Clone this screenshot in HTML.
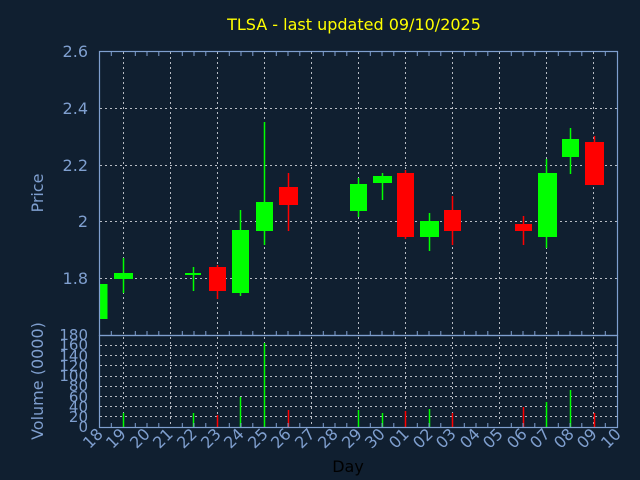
<!DOCTYPE html>
<html><head><meta charset="utf-8"><style>
html,body{margin:0;padding:0;background:#101f30;}
svg{display:block;font-family:"DejaVu Sans","Liberation Sans",sans-serif;}
</style></head><body>
<svg width="640" height="480" viewBox="0 0 640 480" xmlns="http://www.w3.org/2000/svg">
<rect width="640" height="480" fill="#101f30"/>
<text x="354" y="30" fill="#ffff00" font-size="16" text-anchor="middle">TLSA - last updated 09/10/2025</text>
<g stroke="#b8bcc4" stroke-width="1" stroke-dasharray="2,3">
<!-- price horizontal grid -->
<line x1="100" y1="108.5" x2="617" y2="108.5"/>
<line x1="100" y1="165.5" x2="617" y2="165.5"/>
<line x1="100" y1="221.5" x2="617" y2="221.5"/>
<line x1="100" y1="278.5" x2="617" y2="278.5"/>
<!-- volume horizontal grid -->
<line x1="100" y1="345.5" x2="617" y2="345.5"/>
<line x1="100" y1="355.5" x2="617" y2="355.5"/>
<line x1="100" y1="365.5" x2="617" y2="365.5"/>
<line x1="100" y1="376.5" x2="617" y2="376.5"/>
<line x1="100" y1="386.5" x2="617" y2="386.5"/>
<line x1="100" y1="396.5" x2="617" y2="396.5"/>
<line x1="100" y1="406.5" x2="617" y2="406.5"/>
<line x1="100" y1="416.5" x2="617" y2="416.5"/>
<!-- vertical grid -->
<g id="vg">
<line x1="123.5" y1="52" x2="123.5" y2="427"/>
<line x1="170.5" y1="52" x2="170.5" y2="427"/>
<line x1="217.5" y1="52" x2="217.5" y2="427"/>
<line x1="264.5" y1="52" x2="264.5" y2="427"/>
<line x1="311.5" y1="52" x2="311.5" y2="427"/>
<line x1="358.5" y1="52" x2="358.5" y2="427"/>
<line x1="405.5" y1="52" x2="405.5" y2="427"/>
<line x1="452.5" y1="52" x2="452.5" y2="427"/>
<line x1="499.5" y1="52" x2="499.5" y2="427"/>
<line x1="546.5" y1="52" x2="546.5" y2="427"/>
<line x1="593.5" y1="52" x2="593.5" y2="427"/>
</g>
</g>
<!-- candles -->
<g>
<rect x="99.5" y="284" width="8" height="35" fill="#00ff00"/>
<line x1="123.5" y1="258" x2="123.5" y2="293" stroke="#00ff00" stroke-width="1.5"/>
<rect x="114" y="273" width="19" height="6" fill="#00ff00"/>
<line x1="193.5" y1="267" x2="193.5" y2="291" stroke="#00ff00" stroke-width="1.5"/>
<rect x="185" y="273" width="16" height="2" fill="#00ff00"/>
<line x1="217.5" y1="265" x2="217.5" y2="299" stroke="#ff0000" stroke-width="1.5"/>
<rect x="209" y="267" width="17" height="24" fill="#ff0000"/>
<line x1="240.5" y1="210" x2="240.5" y2="296" stroke="#00ff00" stroke-width="1.5"/>
<rect x="232" y="230" width="17" height="63" fill="#00ff00"/>
<line x1="264.5" y1="122" x2="264.5" y2="245" stroke="#00ff00" stroke-width="1.5"/>
<rect x="256" y="202" width="17" height="29" fill="#00ff00"/>
<line x1="288.5" y1="173" x2="288.5" y2="231" stroke="#ff0000" stroke-width="1.5"/>
<rect x="279" y="187" width="19" height="18" fill="#ff0000"/>
<line x1="358.5" y1="178" x2="358.5" y2="217" stroke="#00ff00" stroke-width="1.5"/>
<rect x="350" y="184" width="17" height="27" fill="#00ff00"/>
<line x1="382.5" y1="173" x2="382.5" y2="200" stroke="#00ff00" stroke-width="1.5"/>
<rect x="373" y="176" width="19" height="7" fill="#00ff00"/>
<line x1="405.5" y1="170" x2="405.5" y2="239" stroke="#ff0000" stroke-width="1.5"/>
<rect x="397" y="173" width="17" height="64" fill="#ff0000"/>
<line x1="429.5" y1="213" x2="429.5" y2="251" stroke="#00ff00" stroke-width="1.5"/>
<rect x="420" y="221" width="19" height="16" fill="#00ff00"/>
<line x1="452.5" y1="196" x2="452.5" y2="245" stroke="#ff0000" stroke-width="1.5"/>
<rect x="444" y="210" width="17" height="21" fill="#ff0000"/>
<line x1="523.5" y1="216" x2="523.5" y2="245" stroke="#ff0000" stroke-width="1.5"/>
<rect x="515" y="224" width="17" height="7" fill="#ff0000"/>
<line x1="546.5" y1="159" x2="546.5" y2="248" stroke="#00ff00" stroke-width="1.5"/>
<rect x="538" y="173" width="19" height="64" fill="#00ff00"/>
<line x1="570.5" y1="128" x2="570.5" y2="174" stroke="#00ff00" stroke-width="1.5"/>
<rect x="562" y="139" width="17" height="18" fill="#00ff00"/>
<line x1="594.5" y1="136" x2="594.5" y2="142" stroke="#ff0000" stroke-width="1.5"/>
<rect x="585" y="142" width="19" height="43" fill="#ff0000"/>
</g>
<!-- volume bars -->
<g stroke-width="1.5">
<line x1="123.5" y1="413" x2="123.5" y2="427" stroke="#00ff00"/>
<line x1="193.5" y1="413" x2="193.5" y2="427" stroke="#00ff00"/>
<line x1="217.5" y1="415" x2="217.5" y2="427" stroke="#ff0000"/>
<line x1="240.5" y1="397" x2="240.5" y2="427" stroke="#00ff00"/>
<line x1="264.5" y1="343" x2="264.5" y2="427" stroke="#00ff00"/>
<line x1="288.5" y1="410" x2="288.5" y2="427" stroke="#ff0000"/>
<line x1="358.5" y1="410" x2="358.5" y2="427" stroke="#00ff00"/>
<line x1="382.5" y1="413" x2="382.5" y2="427" stroke="#00ff00"/>
<line x1="405.5" y1="411" x2="405.5" y2="427" stroke="#ff0000"/>
<line x1="429.5" y1="409" x2="429.5" y2="427" stroke="#00ff00"/>
<line x1="452.5" y1="413" x2="452.5" y2="427" stroke="#ff0000"/>
<line x1="523.5" y1="407" x2="523.5" y2="427" stroke="#ff0000"/>
<line x1="546.5" y1="402" x2="546.5" y2="427" stroke="#00ff00"/>
<line x1="570.5" y1="390" x2="570.5" y2="427" stroke="#00ff00"/>
<line x1="594.5" y1="413" x2="594.5" y2="427" stroke="#ff0000"/>
</g>
<!-- axes frames -->
<g fill="none" stroke="#7f9fcf" stroke-width="1.2">
<rect x="99.5" y="51.5" width="518" height="284"/>
<rect x="99.5" y="335.5" width="518" height="92"/>
</g>
<!-- ticks -->
<g stroke="#7f9fcf" stroke-width="1">
<path d="M111.3 52v4M135.3 52v4M147 52v4M158.8 52v4M182.3 52v4M194 52v4M205.8 52v4M229.3 52v4M241 52v4M252.8 52v4M276.3 52v4M288 52v4M299.8 52v4M323.3 52v4M335 52v4M346.8 52v4M370.3 52v4M382 52v4M393.8 52v4M417.3 52v4M429 52v4M440.8 52v4M464.3 52v4M476 52v4M487.8 52v4M511.3 52v4M523 52v4M534.8 52v4M558.3 52v4M570 52v4M581.8 52v4M605.3 52v4"/>
<path d="M111.3 427v-4M135.3 427v-4M147 427v-4M158.8 427v-4M182.3 427v-4M194 427v-4M205.8 427v-4M229.3 427v-4M241 427v-4M252.8 427v-4M276.3 427v-4M288 427v-4M299.8 427v-4M323.3 427v-4M335 427v-4M346.8 427v-4M370.3 427v-4M382 427v-4M393.8 427v-4M417.3 427v-4M429 427v-4M440.8 427v-4M464.3 427v-4M476 427v-4M487.8 427v-4M511.3 427v-4M523 427v-4M534.8 427v-4M558.3 427v-4M570 427v-4M581.8 427v-4M605.3 427v-4"/>
<path d="M111.3 335v-4M135.3 335v-4M147 335v-4M158.8 335v-4M182.3 335v-4M194 335v-4M205.8 335v-4M229.3 335v-4M241 335v-4M252.8 335v-4M276.3 335v-4M288 335v-4M299.8 335v-4M323.3 335v-4M335 335v-4M346.8 335v-4M370.3 335v-4M382 335v-4M393.8 335v-4M417.3 335v-4M429 335v-4M440.8 335v-4M464.3 335v-4M476 335v-4M487.8 335v-4M511.3 335v-4M523 335v-4M534.8 335v-4M558.3 335v-4M570 335v-4M581.8 335v-4M605.3 335v-4"/>
</g>
<!-- y labels -->
<g fill="#7f9fcf" font-size="16" text-anchor="end">
<text x="88" y="57">2.6</text>
<text x="88" y="114">2.4</text>
<text x="88" y="171">2.2</text>
<text x="88" y="227">2</text>
<text x="88" y="284">1.8</text>
</g>
<g fill="#7f9fcf" font-size="15" text-anchor="end">
<text x="88" y="340">180</text>
<text x="88" y="350">160</text>
<text x="88" y="361">140</text>
<text x="88" y="371">120</text>
<text x="88" y="381">100</text>
<text x="88" y="391">80</text>
<text x="88" y="402">60</text>
<text x="88" y="412">40</text>
<text x="88" y="422">20</text>
<text x="88" y="432">0</text>
</g>
<text transform="translate(43,193) rotate(-90)" fill="#7f9fcf" font-size="16" text-anchor="middle">Price</text>
<text transform="translate(43,381) rotate(-90)" fill="#7f9fcf" font-size="16" text-anchor="middle">Volume (0000)</text>
<!-- x labels -->
<g fill="#7f9fcf" font-size="16" text-anchor="end">
<text transform="translate(104,435) rotate(-45)">18</text>
<text transform="translate(127,435) rotate(-45)">19</text>
<text transform="translate(151,435) rotate(-45)">20</text>
<text transform="translate(174,435) rotate(-45)">21</text>
<text transform="translate(198,435) rotate(-45)">22</text>
<text transform="translate(222,435) rotate(-45)">23</text>
<text transform="translate(245,435) rotate(-45)">24</text>
<text transform="translate(269,435) rotate(-45)">25</text>
<text transform="translate(292,435) rotate(-45)">26</text>
<text transform="translate(316,435) rotate(-45)">27</text>
<text transform="translate(339,435) rotate(-45)">28</text>
<text transform="translate(363,435) rotate(-45)">29</text>
<text transform="translate(386,435) rotate(-45)">30</text>
<text transform="translate(410,435) rotate(-45)">01</text>
<text transform="translate(434,435) rotate(-45)">02</text>
<text transform="translate(457,435) rotate(-45)">03</text>
<text transform="translate(481,435) rotate(-45)">04</text>
<text transform="translate(504,435) rotate(-45)">05</text>
<text transform="translate(528,435) rotate(-45)">06</text>
<text transform="translate(551,435) rotate(-45)">07</text>
<text transform="translate(575,435) rotate(-45)">08</text>
<text transform="translate(598,435) rotate(-45)">09</text>
<text transform="translate(622,435) rotate(-45)">10</text>
</g>
<text x="348" y="472" fill="#000000" font-size="16" text-anchor="middle">Day</text>
</svg>
</body></html>
